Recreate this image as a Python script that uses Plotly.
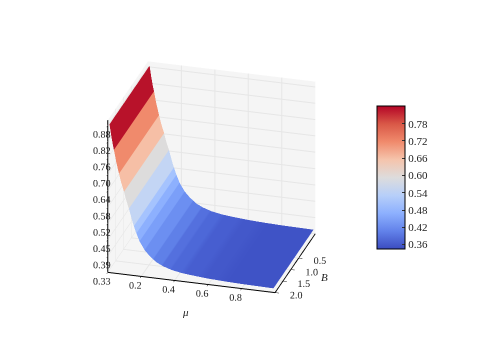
import plotly.graph_objects as go

# values: surface depends on mu only
mu = [0.01, 0.02, 0.03, 0.036, 0.05, 0.066, 0.08, 0.096, 0.11, 0.126, 0.15, 0.17, 0.19, 0.22, 0.25, 0.29, 0.33, 0.38, 0.44, 0.50, 0.60, 0.70, 0.80, 0.90, 0.99]
z_profile = [0.885, 0.845, 0.81, 0.793, 0.748, 0.706, 0.672, 0.641, 0.608, 0.578, 0.525, 0.49, 0.46, 0.43, 0.41, 0.39, 0.378, 0.368, 0.361, 0.357, 0.352, 0.349, 0.347, 0.346, 0.345]
B = [-0.55, 0.0, 0.5, 1.0, 1.5, 2.0]

# the z labels are rounded, their ticks are evenly spaced
z_ticks = [0.33, 0.391, 0.452, 0.513, 0.574, 0.636, 0.697, 0.758, 0.819, 0.88]
z_labels = ['0.33', '0.39', '0.45', '0.52', '0.58', '0.64', '0.70', '0.76', '0.82', '0.88']
mu_ticks = [0.2, 0.4, 0.6, 0.8]
B_ticks = [0.5, 1.0, 1.5, 2.0]
cbar_ticks = [0.36, 0.42, 0.48, 0.54, 0.60, 0.66, 0.72, 0.78]
cbar_min, cbar_max = 0.343, 0.84

coolwarm = ['#3b4cc0', '#6282ea', '#8db0fe', '#b7cff9', '#dddcdc', '#f5c4ac', '#f08a6c', '#d95847', '#b40426']

# banded colours of the surface, from the low end up
band_edges = [0.343, 0.35, 0.355, 0.36, 0.37, 0.38, 0.40, 0.43, 0.46, 0.49, 0.516, 0.578, 0.641, 0.706, 0.793, 0.90]
band_colors = ['#3f53c6', '#4358ca', '#475ed0', '#4d68d8', '#5470de', '#5f80e8', '#6c8ff1', '#7b9ff9', '#8db0fe', '#a5c3fe', '#c3d5f4', '#dddcdc', '#f6bfa6', '#f08a6c', '#b8122a']

z_min, z_max = band_edges[0], band_edges[-1]
stepped = []
for i, col in enumerate(band_colors):
    stepped.append([(band_edges[i] - z_min) / (z_max - z_min), col])
    stepped.append([(band_edges[i + 1] - z_min) / (z_max - z_min), col])

font = 'Liberation Serif'
axis = dict(
    showbackground=True,
    backgroundcolor='#f5f5f5',
    gridcolor='#e6e6e6',
    gridwidth=2,
    showline=True,
    linecolor='black',
    linewidth=2,
    zeroline=False,
    ticks='outside',
    ticklen=4,
    tickcolor='black',
    tickangle=0,
    tickfont=dict(family=font, size=11, color='#222222'),
    showspikes=False,
    title=dict(text=''),
)

surface = go.Surface(
    x=mu,
    y=B,
    z=[z_profile for b in B],
    cmin=z_min,
    cmax=z_max,
    colorscale=stepped,
    showscale=False,
    lighting=dict(ambient=1, diffuse=0, specular=0, roughness=1, fresnel=0),
)

# only here to carry the smooth colour bar
cbar = go.Scatter3d(
    x=[mu[0]], y=[B[0]], z=[z_profile[0]],
    mode='markers',
    marker=dict(
        size=1, opacity=0, color=[z_profile[0]], cmin=cbar_min, cmax=cbar_max,
        colorscale=[[i / 8, c] for i, c in enumerate(coolwarm)],
        colorbar=dict(
            x=0.768, xanchor='left',
            y=0.528, yanchor='middle',
            thickness=28, thicknessmode='pixels',
            len=143, lenmode='pixels',
            outlinecolor='black', outlinewidth=1,
            tickvals=cbar_ticks, ticktext=['%.2f' % t for t in cbar_ticks],
            ticks='inside', ticklen=3, tickcolor='#333333',
            tickfont=dict(family=font, size=11, color='#222222'),
            xpad=0, ypad=0,
        ),
    ),
    showlegend=False,
    hoverinfo='skip',
)

label_font = dict(family=font, size=11, color='#222222')
fig = go.Figure(data=[surface, cbar])
fig.update_layout(
    width=480, height=360,
    margin=dict(l=0, r=0, t=0, b=0),
    paper_bgcolor='white',
    showlegend=False,
    scene=dict(
        domain=dict(x=[0.0, 0.847], y=[0.062, 1.0]),
        aspectmode='manual',
        aspectratio=dict(x=1.03, y=0.86, z=0.993),
        camera=dict(eye=dict(x=1.30, y=-4.52, z=2.18), center=dict(x=0, y=0, z=0),
                    projection=dict(type='orthographic')),
        xaxis=dict(axis, range=[0.0, 1.0], tickvals=mu_ticks, ticktext=['%.1f' % t for t in mu_ticks]),
        yaxis=dict(axis, range=[2.0, -0.55], tickvals=B_ticks, ticktext=['%.1f' % t for t in B_ticks]),
        zaxis=dict(axis, range=[0.33, 0.90], tickvals=z_ticks, ticktext=z_labels),
        annotations=[
            dict(x=0.5, y=2.0, z=0.33, text='<i>μ</i>', showarrow=False, xanchor='center', yanchor='middle',
                 xshift=-6, yshift=-30, font=label_font),
            dict(x=1.0, y=1.5, z=0.33, text='<i>B</i>', showarrow=False, xanchor='center', yanchor='middle',
                 xshift=42, yshift=4, font=label_font),
        ],
    ),
)
fig.write_html("out.html")
